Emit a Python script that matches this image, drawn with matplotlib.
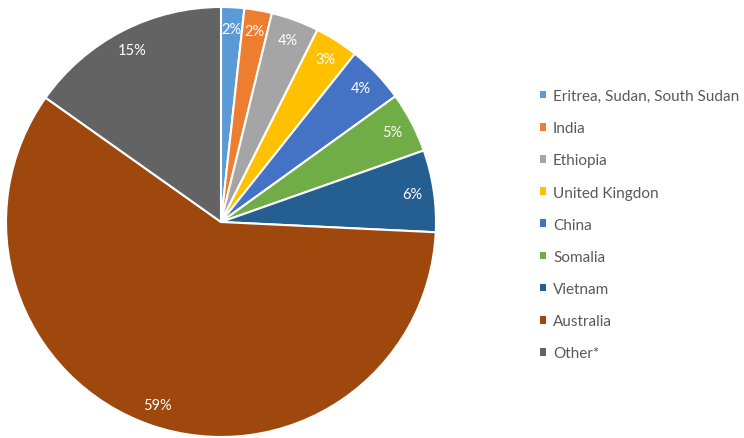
import matplotlib
matplotlib.use("Agg")
import matplotlib.pyplot as plt

categories = ["Eritrea, Sudan, South Sudan", "India", "Ethiopia", "United Kingdon",
              "China", "Somalia", "Vietnam", "Australia", "Other*"]
values = [1.74, 2.07, 3.6, 3.3, 4.36, 4.55, 6.16, 59.1, 15.2]
colors = ["#5B9BD5", "#ED7D31", "#A5A5A5", "#FFC000", "#4472C4",
          "#70AD47", "#255E91", "#9E480E", "#636363"]

W, H = 744, 439
fig = plt.figure(figsize=(W / 100, H / 100), dpi=100)
cx, cy, r = 221, 223, 215
ax = fig.add_axes([(cx - r) / W, (H - cy - r) / H, 2 * r / W, 2 * r / H])

wedges, texts, autotexts = ax.pie(
    values, colors=colors, startangle=90, counterclock=False,
    autopct="%.0f%%", pctdistance=0.9,
    wedgeprops=dict(edgecolor="white", linewidth=1.5),
    textprops=dict(color="white", fontsize=10.5, family="Lato"))
ax.set_xlim(-1, 1)
ax.set_ylim(-1, 1)
ax.set_aspect("equal")
ax.axis("off")

leg = fig.legend(wedges, categories, loc="upper left",
                 bbox_to_anchor=(540 / W, 1 - 90 / H),
                 frameon=False, handlelength=0.4, handleheight=0.4,
                 handletextpad=0.45, labelspacing=1.19, borderaxespad=0,
                 borderpad=0,
                 prop=dict(family="Lato", size=11.0))
for t in leg.get_texts():
    t.set_color("#595959")
for h in leg.legend_handles:
    h.set_edgecolor("none")

fig.savefig("out.png", dpi=100)
